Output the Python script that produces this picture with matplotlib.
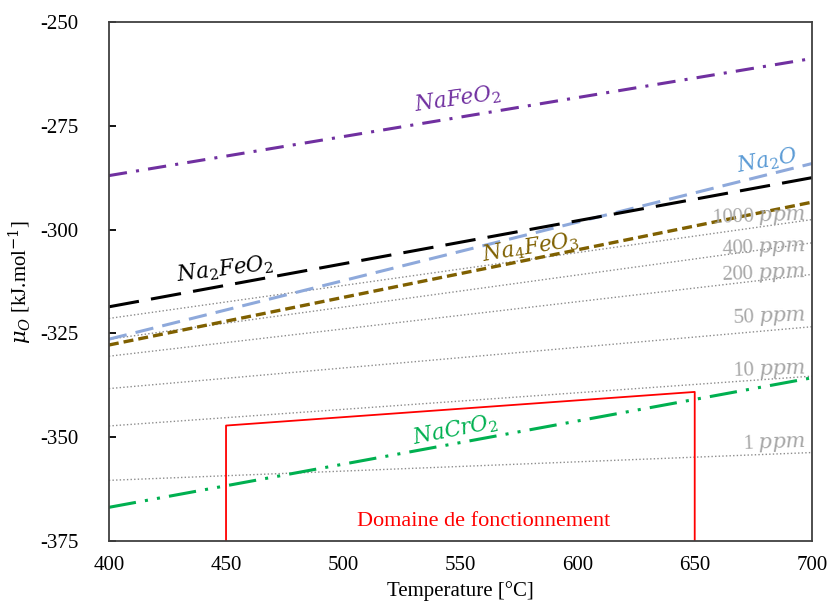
import matplotlib
matplotlib.use("Agg")
import matplotlib.pyplot as plt

# temperatures where the lines were read (deg C)
T_ends = [400, 700]

# oxide lines: mu_O [kJ/mol] at 400 and 700 C
NaFeO2 = [-287.0, -258.8]
Na2O = [-326.4, -284.1]
Na2FeO2 = [-318.6, -287.5]
Na4FeO3 = [-327.8, -293.4]
NaCrO2 = [-366.9, -335.7]

# oxygen concentration iso-lines
ppm_labels = ["1000", "400", "200", "50", "10", "1"]
ppm_left = [-321.4, -326.4, -330.5, -338.3, -347.3, -360.4]
ppm_right = [-297.6, -303.2, -310.8, -323.4, -335.3, -353.7]
ppm_label_y = [-296.8, -304.4, -310.6, -321.0, -333.8, -351.4]

# operating domain
dom_T = [450, 450, 650, 650]
dom_mu = [-375, -347.2, -339.1, -375]

plt.rcParams.update({"font.family": "Liberation Serif", "font.size": 15,
                     "mathtext.fontset": "dejavuserif",
                     "axes.unicode_minus": False})

fig = plt.figure(figsize=(8.31, 6.06), dpi=100)
ax = fig.add_axes([0.131, 0.1073, 0.846, 0.8564])

for lo, hi in zip(ppm_left, ppm_right):
    ax.plot(T_ends, [lo, hi], color="#8c8c8c", lw=1.0, ls=(0, (1, 1.6)))

ax.plot(T_ends, NaFeO2, color="#7030A0", lw=2.2, ls=(0, (6, 3, 1, 3)))
ax.plot(T_ends, Na2O, color="#8EA9DB", lw=2.2, ls=(0, (6, 3)))
ax.plot(T_ends, Na2FeO2, color="black", lw=2.2, ls=(0, (10, 4)))
ax.plot(T_ends, Na4FeO3, color="#7F6000", lw=2.4, ls=(0, (3, 1.5)))
ax.plot(T_ends, NaCrO2, color="#00B050", lw=2.2, ls=(0, (9, 3, 1, 3, 1, 3)))

ax.plot(dom_T, dom_mu, color="red", lw=1.3)
ax.text(560, -370.3, "Domaine de fonctionnement", color="red", ha="center",
        va="center", fontsize=16)

lbl = dict(ha="center", va="center", fontsize=15.5)
ax.text(549, -268.6, r"$NaFeO_2$", color="#7030A0", rotation=8, **lbl)
ax.text(681, -283.4, r"$Na_2O$", color="#5B9BD5", rotation=10, **lbl)
ax.text(449.5, -309.6, r"$Na_2FeO_2$", color="black", rotation=7, **lbl)
ax.text(580, -304.4, r"$Na_4FeO_3$", color="#7F6000", rotation=9, **lbl)
ax.text(548, -348.2, r"$NaCrO_2$", color="#00B050", rotation=11, **lbl)

for name, y in zip(ppm_labels, ppm_label_y):
    ax.text(697.5, y, name + r" $ppm$", color="#A6A6A6", ha="right",
            va="center", fontsize=15, rotation=2)

ax.set_xlim(400, 700)
ax.set_ylim(-375, -250)
ax.set_xticks(range(400, 701, 50))
ax.set_yticks(range(-375, -249, 25))
ax.tick_params(axis="y", direction="in", length=5, width=1.3, pad=22)
ax.tick_params(axis="x", length=0, pad=11)
for s in ax.spines.values():
    s.set_color("#404040")
    s.set_linewidth(1.3)

ax.set_xlabel("Temperature [°C]", fontsize=15, labelpad=4)
ax.set_ylabel(r"$\mu_O$ [kJ.mol$^{-1}$]", fontsize=15, labelpad=4)

fig.savefig("out.png", dpi=100)
